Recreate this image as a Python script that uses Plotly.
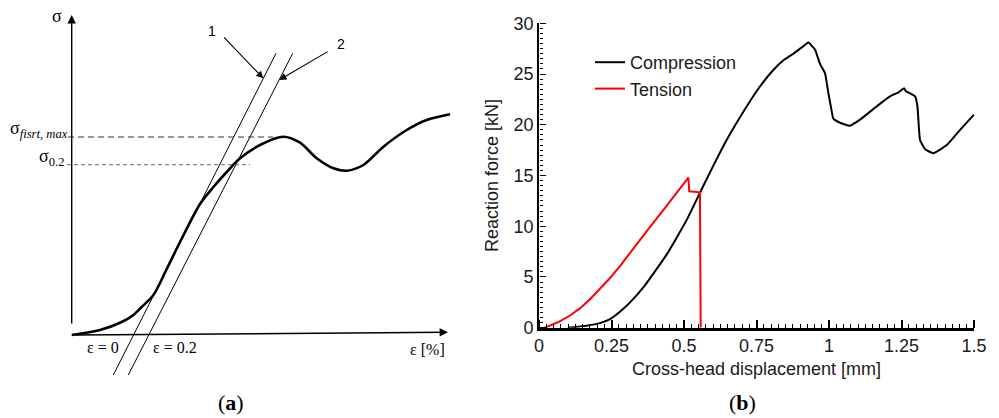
import plotly.graph_objects as go

# ---------------- Panel (b) data ----------------
comp_x = [0.10, 0.164, 0.21, 0.245, 0.28, 0.314, 0.366, 0.44, 0.509, 0.555, 0.60, 0.647, 0.716, 0.76,
          0.808, 0.845, 0.877, 0.905, 0.929, 0.94, 0.952, 0.969, 0.986, 0.998, 1.009, 1.015, 1.038,
          1.072, 1.107, 1.164, 1.21, 1.24, 1.259, 1.265, 1.273, 1.297, 1.305, 1.314, 1.331, 1.36,
          1.406, 1.452, 1.5]
comp_y = [0.0, 0.2, 0.45, 0.85, 1.6, 2.5, 4.2, 7.2, 10.6, 13.3, 15.9, 18.5, 21.8, 23.7,
          25.4, 26.4, 27.0, 27.6, 28.1, 27.8, 27.4, 26.0, 25.1, 23.1, 21.4, 20.6, 20.2,
          19.9, 20.5, 21.8, 22.8, 23.2, 23.6, 23.3, 23.2, 22.8, 21.8, 18.5, 17.6, 17.2,
          18.0, 19.5, 21.0]
tens_x = [0.02, 0.04, 0.07, 0.107, 0.141, 0.176, 0.21, 0.245, 0.28, 0.314, 0.371, 0.44, 0.486, 0.515,
          0.518, 0.555, 0.5575]
tens_y = [0.0, 0.22, 0.6, 1.2, 1.9, 2.8, 3.8, 4.9, 6.1, 7.4, 9.5, 12.0, 13.7, 14.8,
          13.45, 13.34, 0.0]

# ---------------- Panel (a) schematic data (schematic units) ----------------
sch_curve_x = [0, 28.3, 50, 61.7, 70, 81.7, 95, 108.3, 128.3, 141.7, 155, 168.3, 188.3, 211.7,
               228.3, 245, 261.7, 275, 291.7, 311.7, 335, 355, 378.3]
sch_curve_y = [0, 5, 13, 20, 28, 40, 66, 93, 131, 148, 163, 176.7, 190, 198.3,
               192.3, 176.7, 166.7, 164.3, 170, 188.3, 205, 215, 220.7]
line1_x = [41.6, 204.3]
line1_y = [-40, 281.7]
line2_x = [56.6, 221.0]
line2_y = [-40, 281.7]
smax_x = [-3.7, 201.3]
smax_y = [198, 198]
s02_x = [-4.7, 178.3]
s02_y = [170.3, 170.3]

fig = go.Figure()

# Panel (a)
fig.add_trace(go.Scatter(x=sch_curve_x, y=sch_curve_y, mode="lines", xaxis="x2", yaxis="y2",
                         line=dict(color="black", width=2.6, shape="spline", smoothing=0.8),
                         showlegend=False))
for lx, ly in [(line1_x, line1_y), (line2_x, line2_y)]:
    fig.add_trace(go.Scatter(x=lx, y=ly, mode="lines", xaxis="x2", yaxis="y2",
                             line=dict(color="black", width=1), showlegend=False))
fig.add_trace(go.Scatter(x=smax_x, y=smax_y, mode="lines", xaxis="x2", yaxis="y2",
                         line=dict(color="#333333", width=1, dash="6px,4px"), showlegend=False))
fig.add_trace(go.Scatter(x=s02_x, y=s02_y, mode="lines", xaxis="x2", yaxis="y2",
                         line=dict(color="#666666", width=1, dash="4px,3px"), showlegend=False))

# Panel (b)
fig.add_trace(go.Scatter(x=comp_x, y=comp_y, mode="lines", name="Compression",
                         line=dict(color="black", width=2, shape="spline", smoothing=0.4)))
fig.add_trace(go.Scatter(x=tens_x, y=tens_y, mode="lines", name="Tension",
                         line=dict(color="red", width=2)))
# empty trace so the tick-only overlay axes are drawn
fig.add_trace(go.Scatter(x=[None], y=[None], xaxis="x3", yaxis="y3", mode="lines",
                         showlegend=False, hoverinfo="skip"))

serif = "Liberation Serif, Times New Roman, serif"
sans = "Liberation Sans, Arial, sans-serif"

ann = []
ann.append(dict(x=0, y=320, ax=0, ay=0, xref="x2", yref="y2", axref="x2", ayref="y2",
                showarrow=True, arrowhead=2, arrowsize=1.2, arrowwidth=1.4, arrowcolor="black", text=" "))
ann.append(dict(x=376.3, y=2.7, ax=0, ay=0, xref="x2", yref="y2", axref="x2", ayref="y2",
                showarrow=True, arrowhead=2, arrowsize=1.2, arrowwidth=1.4, arrowcolor="black", text=" "))
ann.append(dict(x=191.6, y=256.7, ax=148.3, ay=301.7, xref="x2", yref="y2", axref="x2", ayref="y2",
                showarrow=True, arrowhead=2, arrowsize=1.3, arrowwidth=1.1, arrowcolor="black", text=" "))
ann.append(dict(x=207.6, y=255, ax=260, ay=285.7, xref="x2", yref="y2", axref="x2", ayref="y2",
                showarrow=True, arrowhead=2, arrowsize=1.3, arrowwidth=1.1, arrowcolor="black", text=" "))


def txt(x, y, t, size, font=serif, xanchor="center", yanchor="middle"):
    ann.append(dict(x=x, y=y, xref="x2", yref="y2", text=t, showarrow=False,
                    xanchor=xanchor, yanchor=yanchor, font=dict(family=font, size=size, color="black")))


txt(140.3, 304, "1", 14, sans)
txt(269, 290.7, "2", 14, sans)
txt(-14.7, 319, "σ", 18)
txt(-2, 206, "σ<sub><i>fisrt, max</i></sub>", 18, xanchor="right")
txt(-6, 178, "σ<sub>0.2</sub>", 18, xanchor="right")
txt(31.3, -12, "ε = 0", 16)
txt(103.3, -12, "ε = 0.2", 16)
txt(355.3, -14, "ε [%]", 16)

ann.append(dict(x=231 / 999, y=(418 - 402) / 418, xref="paper", yref="paper", text="(<b>a</b>)",
                xanchor="center", yanchor="middle",
                showarrow=False, font=dict(family=serif, size=22, color="black")))
ann.append(dict(x=742 / 999, y=(418 - 402) / 418, xref="paper", yref="paper", text="(<b>b</b>)",
                xanchor="center", yanchor="middle",
                showarrow=False, font=dict(family=serif, size=22, color="black")))

x_dom = [539 / 999, 974 / 999]
y_dom = [(418 - 327.7) / 418, (418 - 23.3) / 418]

fig.update_layout(
    width=999, height=418, margin=dict(l=0, r=0, t=0, b=0, autoexpand=False),
    paper_bgcolor="white", plot_bgcolor="rgba(0,0,0,0)",
    font=dict(family=sans, size=18, color="#1a1a1a"),
    xaxis=dict(domain=x_dom, range=[0, 1.5], tickmode="linear", dtick=0.25, tick0=0,
               showgrid=False, zeroline=False, showline=True, linecolor="black", linewidth=2.5,
               ticks="", tickfont=dict(size=18, family=sans, color="#1a1a1a"),
               automargin=False, anchor="y",
               title=dict(text="Cross-head displacement [mm]", standoff=8, font=dict(size=18))),
    yaxis=dict(domain=y_dom, range=[0, 30], tickmode="linear", dtick=5, tick0=0,
               showgrid=False, zeroline=False, showline=True, linecolor="black", linewidth=1.8,
               ticks="", tickfont=dict(size=18, family=sans, color="#1a1a1a"),
               automargin=False, anchor="x",
               title=dict(text="Reaction force [kN]", standoff=10, font=dict(size=18))),
    # tick-only axes facing into the plot area (ticks pointing up / right)
    xaxis3=dict(overlaying="x", range=[0, 1.5], side="top", anchor="free", position=y_dom[0],
                tickmode="linear", dtick=0.25, tick0=0, showticklabels=False,
                showgrid=False, zeroline=False, showline=False,
                ticks="outside", ticklen=8, tickwidth=1.5, tickcolor="black",
                minor=dict(dtick=0.025, ticks="outside", ticklen=4, tickwidth=1, tickcolor="black"),
                automargin=False),
    yaxis3=dict(overlaying="y", range=[0, 30], side="right", anchor="free", position=x_dom[0],
                tickmode="linear", dtick=5, tick0=0, showticklabels=False,
                showgrid=False, zeroline=False, showline=False,
                ticks="outside", ticklen=6, tickwidth=1.2, tickcolor="black",
                minor=dict(dtick=0.5, ticks="outside", ticklen=3, tickwidth=1, tickcolor="black"),
                automargin=False),
    xaxis2=dict(domain=[0, 0.48], range=[-71.7, 407.8], visible=False, anchor="y2"),
    yaxis2=dict(domain=[0, 1], range=[-83, 335], visible=False, anchor="x2"),
    legend=dict(x=590 / 999, y=(418 - 44) / 418, xanchor="left", yanchor="top",
                bgcolor="rgba(0,0,0,0)", font=dict(size=18, color="#1a1a1a"),
                tracegroupgap=0, itemwidth=30),
    annotations=ann,
)

fig.write_html("out.html")
